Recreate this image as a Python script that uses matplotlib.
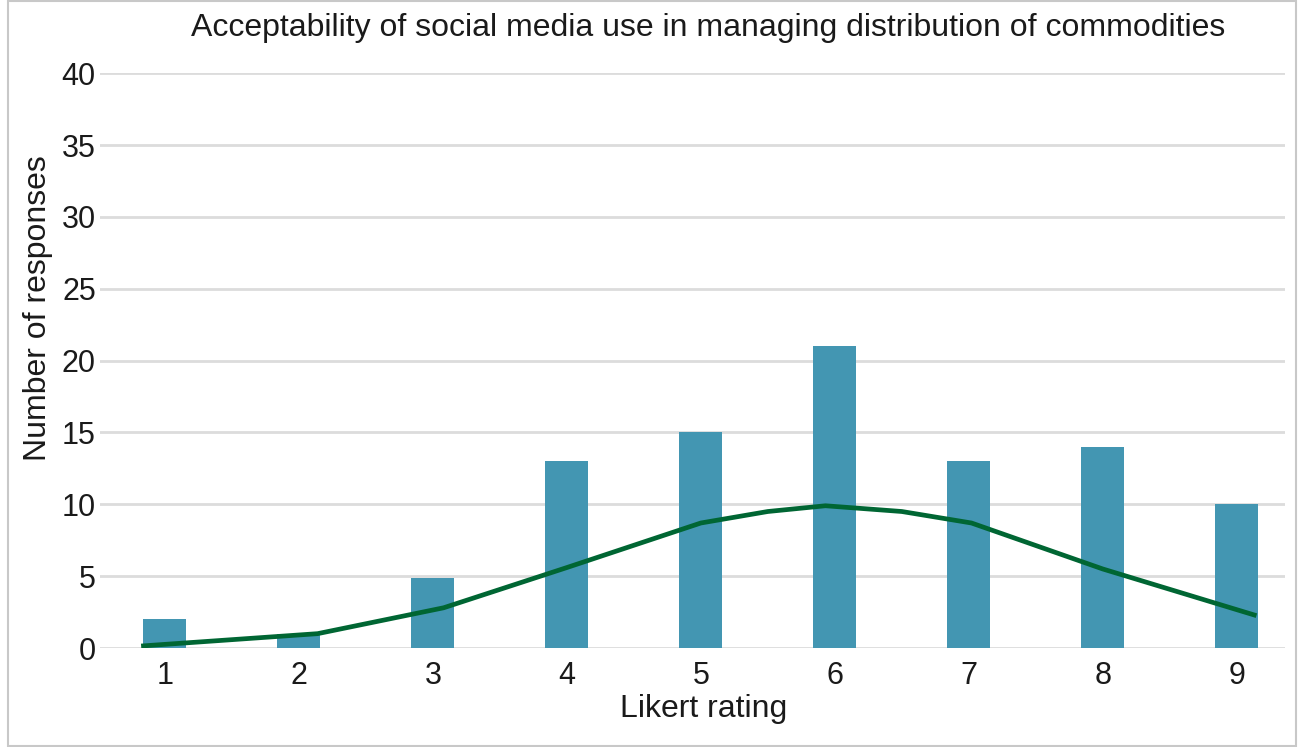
import numpy as np
import matplotlib.pyplot as plt
from matplotlib.patches import Rectangle

plt.rcParams['font.family'] = ['Liberation Sans', 'DejaVu Sans']

ratings = [1, 2, 3, 4, 5, 6, 7, 8, 9]
responses = [2, 1, 4.9, 13, 15, 21, 13, 14, 10]

# fitted curve
curve_x = [0.84, 2.14, 3.08, 4, 5, 5.5, 5.93, 6.5, 7.02, 8, 9.13]
curve_y = [0.15, 1.0, 2.8, 5.6, 8.7, 9.5, 9.9, 9.5, 8.7, 5.5, 2.3]

fig = plt.figure(figsize=(12.98, 7.47), dpi=100)
ax = fig.add_axes([0.077, 0.1325, 0.913, 0.7695])

ax.bar(ratings, responses, width=0.32, color='#4396b2', zorder=2)
ax.plot(curve_x, curve_y, color='#006633', lw=3.4, zorder=3)

ax.set_xlim(0.515, 9.36)
ax.set_ylim(0, 40)
ax.set_yticks(range(0, 41, 5))
ax.set_xticks(ratings)
ax.grid(axis='y', color='#dcdcdc', lw=2)
ax.set_axisbelow(True)
for s in ax.spines.values():
    s.set_visible(False)
ax.tick_params(length=0, labelsize=22, colors='#1a1a1a')
ax.tick_params(axis='x', pad=9)
ax.tick_params(axis='y', pad=3)

fig.text(708 / 1298, 1 - 28 / 747, 'Acceptability of social media use in managing distribution of commodities',
         ha='center', va='center', fontsize=23, color='#1a1a1a')
fig.text(704 / 1298, 1 - 709 / 747, 'Likert rating', ha='center', va='center', fontsize=23, color='#1a1a1a')
fig.text(38 / 1298, 1 - 308 / 747, 'Number of responses', ha='center', va='center', rotation=90,
         fontsize=23, color='#1a1a1a')

fig.patches.append(Rectangle((8 / 1298, 1 / 747), 1288 / 1298, 745 / 747, transform=fig.transFigure,
                             fill=False, edgecolor='#c8c8c8', lw=1.5))

plt.savefig('out.png', dpi=100)
